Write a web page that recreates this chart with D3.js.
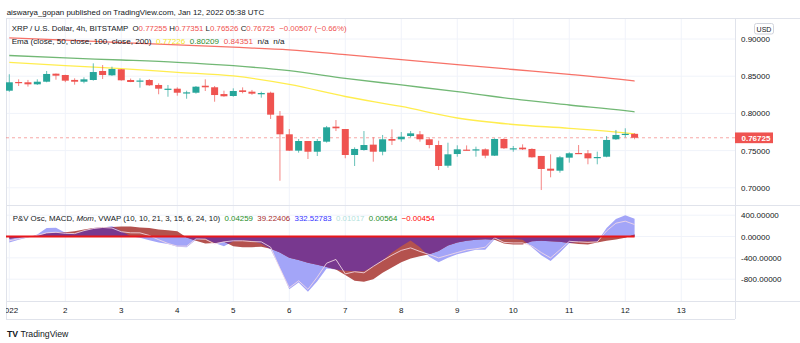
<!DOCTYPE html>
<html><head><meta charset="utf-8">
<script src="https://cdn.jsdelivr.net/npm/d3@7"></script>
<style>
body{margin:0;background:#fff;}
svg{display:block;font-family:"Liberation Sans",Arial,sans-serif;}
</style>
</head><body>
<svg id="c" width="800" height="343"></svg>
<script>
// ---------- DATA ----------
const dayIndex = [0,6,12,18,24,30,36,42,48,54,60,66,72];
const dayLabels = ["2022","2","3","4","5","6","7","8","9","10","11","12","13"];

const open  = [.8305,.8422,.8418,.8391,.8426,.8534,.8516,.8450,.8426,.8449,.8570,.8512,.8593,.8449,.8428,.8449,.8382,.8328,.8332,.8270,.8278,.8372,.8351,.8260,.8234,.8310,.8292,.8257,.8278,.7969,.7719,.7499,.7629,.7485,.7620,.7822,.7790,.7441,.7508,.7580,.7485,.7656,.7652,.7696,.7719,.7652,.7575,.7297,.7454,.7513,.7508,.7517,.7432,.7656,.7526,.7540,.7522,.7428,.7257,.7230,.7405,.7468,.7464,.7400,.7418,.7652,.7714,.77255];
const high  = [.8526,.8458,.8450,.8458,.8570,.8536,.8520,.8472,.8485,.8673,.8650,.8628,.8597,.8468,.8472,.8462,.8404,.8382,.8350,.8305,.8368,.8458,.8368,.8305,.8337,.8350,.8315,.8292,.8292,.8032,.7790,.7656,.7629,.7656,.7831,.7911,.7790,.7544,.7763,.7679,.7710,.7786,.7750,.7763,.7763,.7679,.7633,.7606,.7571,.7570,.7553,.7530,.7665,.7665,.7562,.7584,.7531,.7428,.7450,.7428,.7477,.7575,.7508,.7486,.7696,.7777,.7800,.77351];
const low   = [.8290,.8368,.8360,.8382,.8418,.8453,.8420,.8386,.8405,.8440,.8462,.8503,.8440,.8420,.8346,.8370,.8257,.8224,.8238,.8197,.8265,.8301,.8157,.8224,.8224,.8270,.8250,.8211,.7925,.7095,.7495,.7472,.7387,.7427,.7607,.7763,.7397,.7293,.7499,.7351,.7437,.7575,.7620,.7679,.7620,.7531,.7239,.7270,.7418,.7503,.7418,.7397,.7427,.7522,.7485,.7508,.7405,.6970,.7141,.7203,.7338,.7454,.7316,.7316,.7410,.7643,.7679,.76526];
const close = [.8418,.8415,.8391,.8426,.8530,.8507,.8440,.8426,.8458,.8556,.8516,.8597,.8445,.8422,.8442,.8378,.8332,.8332,.8278,.8283,.8359,.8351,.8247,.8230,.8301,.8288,.8265,.8274,.7983,.7719,.7499,.7629,.7485,.7629,.7813,.7800,.7441,.7522,.7575,.7485,.7652,.7633,.7687,.7732,.7652,.7575,.7293,.7450,.7517,.7508,.7517,.7432,.7656,.7531,.7531,.7517,.7410,.7253,.7230,.7410,.7464,.7459,.7396,.7414,.7643,.7710,.77255,.76725];

const emaIdx = [0,6,12,18,24,30,36,42,48,54,60,66,67];
const ema50  = [.8686,.8642,.8603,.8552,.8503,.8390,.8227,.8093,.7938,.7851,.7800,.7737,.77226];
const ema100 = [.8778,.8745,.8718,.8687,.8641,.8574,.8472,.8382,.8292,.8194,.8113,.8036,.80209];
const ema200 = [.9015,.8985,.8952,.8920,.8890,.8855,.8790,.8722,.8655,.8590,.8525,.8450,.84351];

const oscBlue = [-110,-60,-20,40,160,165,70,50,110,160,170,193,100,5,-25,-70,-110,-140,-190,-200,-60,-40,-120,-180,-90,-75,-80,-130,-240,-590,-990,-860,-1035,-840,-600,-620,-640,-650,-650,-560,-450,-300,-180,-75,-200,-380,-480,-400,-330,-290,-250,-250,-50,-40,-40,-60,-200,-350,-460,-300,-119,-100,-90,-100,160,330,400,332.5];
const oscRed  = [-40,-20,-5,20,60,70,80,100,130,160,170,180,190,190,170,160,130,120,100,-20,-80,-130,-120,-100,-180,-200,-200,-190,-230,-300,-400,-440,-490,-530,-570,-620,-720,-830,-850,-800,-680,-580,-480,-410,-370,-330,-270,-170,-110,-80,-60,-50,-60,-130,-150,-150,-90,-80,-90,-100,-120,-140,-150,-110,-80,-55,-25,39.2];
const oscLine = [-80,-40,-10,20,69,80,60,55,110,150,170,160,90,70,69,20,-60,-130,-180,-180,-45,-50,-138,-100,-80,-80,-95,-100,-200,-600,-960,-830,-990,-760,-500,-430,-700,-660,-680,-560,-450,-350,-260,-213,-280,-338,-400,-350,-300,-250,-230,-200,-25,-110,-120,-119,-180,-300,-400,-250,-90,-100,-110,-100,106,250,288,225];

const priceTicks = [0.90,0.85,0.80,0.75,0.70];
const oscTicks = [400,0,-400,-800];
const lastPrice = 0.76725;

// ---------- LAYOUT ----------
const L=6, R=735, T=18, MB=205, LB=301, AB=319;
const svg = d3.select("#c");
const x = d3.scaleLinear().domain([0,67]).range([9.3,634.6]);
const y = d3.scaleLinear().domain([0.70,0.90]).range([187.8,39]);
const yo = d3.scaleLinear().domain([-800,400]).range([279.2,215.2]);
const idx = d3.range(open.length);

const defs = svg.append("defs");
defs.append("clipPath").attr("id","mainClip").append("rect").attr("x",L).attr("y",T).attr("width",R-L).attr("height",MB-T);
defs.append("clipPath").attr("id","lowClip").append("rect").attr("x",L).attr("y",MB).attr("width",R-L).attr("height",LB-MB);
defs.append("clipPath").attr("id","axClip").append("rect").attr("x",L).attr("y",LB).attr("width",R-L).attr("height",AB-LB);

// grid
const grid = svg.append("g").attr("stroke","#f0f3fa").attr("stroke-width",1);
dayIndex.forEach(d=>{
  const xx = x(d);
  if (xx>L && xx<R) grid.append("line").attr("x1",xx).attr("x2",xx).attr("y1",T).attr("y2",LB);
});
priceTicks.forEach(p=>grid.append("line").attr("x1",L).attr("x2",R).attr("y1",y(p)).attr("y2",y(p)));
oscTicks.forEach(v=>grid.append("line").attr("x1",L).attr("x2",R).attr("y1",yo(v)).attr("y2",yo(v)));

// frame
const frame = svg.append("g").attr("stroke","#e0e3eb").attr("stroke-width",1).attr("fill","none");
frame.append("line").attr("x1",L).attr("x2",800).attr("y1",T+0.5).attr("y2",T+0.5);
frame.append("line").attr("x1",L+0.5).attr("x2",L+0.5).attr("y1",T).attr("y2",AB);
frame.append("line").attr("x1",R+0.5).attr("x2",R+0.5).attr("y1",T).attr("y2",AB);
frame.append("line").attr("x1",L).attr("x2",800).attr("y1",MB+0.5).attr("y2",MB+0.5);
frame.append("line").attr("x1",L).attr("x2",800).attr("y1",LB+0.5).attr("y2",LB+0.5);
frame.append("line").attr("x1",L).attr("x2",R).attr("y1",AB+0.5).attr("y2",AB+0.5);

// ---------- MAIN PANE ----------
const main = svg.append("g").attr("clip-path","url(#mainClip)");
main.append("line").attr("x1",L).attr("x2",R).attr("y1",y(lastPrice)).attr("y2",y(lastPrice))
  .attr("stroke","#ef5350").attr("stroke-opacity",0.5).attr("stroke-dasharray","3,3");

const emaLine = arr => d3.line().x((d,i)=>x(emaIdx[i])).y(d=>y(d)).curve(d3.curveMonotoneX)(arr);
main.append("path").attr("d",emaLine(ema200)).attr("fill","none").attr("stroke","#f44336").attr("stroke-opacity",0.75).attr("stroke-width",1.3);
main.append("path").attr("d",emaLine(ema100)).attr("fill","none").attr("stroke","#43a047").attr("stroke-opacity",0.75).attr("stroke-width",1.3);
main.append("path").attr("d",emaLine(ema50)).attr("fill","none").attr("stroke","#ffeb3b").attr("stroke-opacity",0.9).attr("stroke-width",1.3);

const up = "#26a69a", dn = "#ef5350";
const cg = main.append("g");
cg.selectAll("line.w").data(idx).join("line").attr("class","w")
  .attr("x1",i=>x(i)).attr("x2",i=>x(i)).attr("y1",i=>y(high[i])).attr("y2",i=>y(low[i]))
  .attr("stroke",i=>close[i]>=open[i]?up:dn).attr("stroke-width",1).attr("stroke-opacity",0.7);
cg.selectAll("rect.b").data(idx).join("rect").attr("class","b")
  .attr("x",i=>x(i)-3.5).attr("width",7)
  .attr("y",i=>y(Math.max(open[i],close[i])))
  .attr("height",i=>Math.max(1.2,Math.abs(y(open[i])-y(close[i]))))
  .attr("fill",i=>close[i]>=open[i]?up:dn);

// ---------- LOWER PANE ----------
const low2 = svg.append("g").attr("clip-path","url(#lowClip)");
const areaOf = arr => d3.area().x((d,i)=>x(i)).y0(yo(0)).y1(d=>yo(d))(arr);
defs.append("clipPath").attr("id","redShape").append("path").attr("d",areaOf(oscRed));
low2.append("path").attr("d",areaOf(oscBlue)).attr("fill","#a3a5f8");
low2.append("path").attr("d",areaOf(oscRed)).attr("fill","#b4524e");
low2.append("path").attr("d",areaOf(oscBlue)).attr("fill","#78388f").attr("clip-path","url(#redShape)");
low2.append("path").attr("d",d3.line().x((d,i)=>x(i)).y(d=>yo(d))(oscLine))
  .attr("fill","none").attr("stroke","#f4dbe4").attr("stroke-width",1).attr("stroke-opacity",0.85);
low2.append("line").attr("x1",L).attr("x2",x(67)).attr("y1",yo(0)).attr("y2",yo(0))
  .attr("stroke","#e8171b").attr("stroke-width",2);

// ---------- AXES ----------
const pa = svg.append("g").attr("transform",`translate(${R},0)`)
  .call(d3.axisRight(y).tickValues(priceTicks).tickSize(0).tickPadding(6).tickFormat(d3.format(".5f")));
const oa = svg.append("g").attr("transform",`translate(${R},0)`)
  .call(d3.axisRight(yo).tickValues(oscTicks).tickSize(0).tickPadding(6).tickFormat(d=>d3.format(".5f")(d).replace("\u2212","-")));
const ta = svg.append("g").attr("clip-path","url(#axClip)")
  .call(d3.axisBottom(x).tickValues(dayIndex).tickSize(0).tickPadding(6).tickFormat((d,i)=>dayLabels[i]));
ta.selectAll(".tick").attr("transform",d=>`translate(${x(d)},${LB})`);
[pa,oa,ta].forEach(g=>{
  g.select(".domain").remove();
  g.selectAll("text").attr("font-size",8).attr("fill","#131722").attr("font-family","Liberation Sans, Arial, sans-serif");
});

// USD box
svg.append("rect").attr("x",754.5).attr("y",23.5).attr("width",19).attr("height",10.5).attr("rx",2)
  .attr("fill","#fff").attr("stroke","#d1d4dc");
svg.append("text").attr("x",764).attr("y",31.5).attr("text-anchor","middle").attr("font-size",7).attr("fill","#131722").text("USD");

// last price label
svg.append("rect").attr("x",R).attr("y",y(lastPrice)-5.3).attr("width",38).attr("height",10.7).attr("fill","#ef5350");
svg.append("text").attr("x",741.5).attr("y",y(lastPrice)+3).attr("font-size",8).attr("font-weight","bold").attr("fill","#fff").text(d3.format(".5f")(lastPrice));

// ---------- TEXTS: flowing tspans, font size fitted to the reference width ----------
function flowLine(yy, x0, target, segs){
  const te = svg.append("text").attr("x",x0).attr("y",yy).attr("font-size",10)
    .attr("fill","#131722").style("white-space","pre");
  segs.forEach(s=>{
    const sp = te.append("tspan").text(s[0]);
    if (s[1]) sp.attr("fill",s[1]);
    if (s[2]) sp.attr("font-style",s[2]);
    if (s[3]) sp.attr("font-weight",s[3]);
  });
  const len = te.node().getComputedTextLength();
  te.attr("font-size", 10*target/len);
  return te;
}
const RED="#ef5350";
flowLine(14.5,6.7,258,[["aiswarya_gopan published on TradingView.com, Jan 12, 2022 05:38 UTC"]]);
flowLine(30.7,11.7,336,[
  ["XRP / U.S. Dollar, 4h, BITSTAMP  O"],["0.77255",RED],[" H"],["0.77351",RED],
  [" L"],["0.76526",RED],[" C"],["0.76725",RED],["  \u22120.00507 (\u22120.66%)",RED]
]);
flowLine(44,11.7,273,[
  ["Ema (close, 50, close, 100, close, 200)  "],["0.77226","#f5e52a"],["  "],["0.80209","#2e8b2e"],
  ["  "],["0.84351",RED],["  n/a  n/a"]
]);
flowLine(220.5,12.7,422,[
  ["P&V Osc, MACD, "],["Mom","#131722","italic"],[", VWAP (10, 10, 21, 3, 15, 6, 24, 10)  "],
  ["0.04259","#1e8c1e"],["  "],["39.22406","#a52a2a"],["  "],["332.52783","#3333ff"],["  "],
  ["0.01017","#b2dfdb"],["  "],["0.00564","#1e8c1e"],["  "],["\u22120.00454","#ff0000"]
]);
flowLine(336.5,7,61.5,[["TV","#131722",null,"bold"],[" TradingView"]]);
</script>
</body></html>
